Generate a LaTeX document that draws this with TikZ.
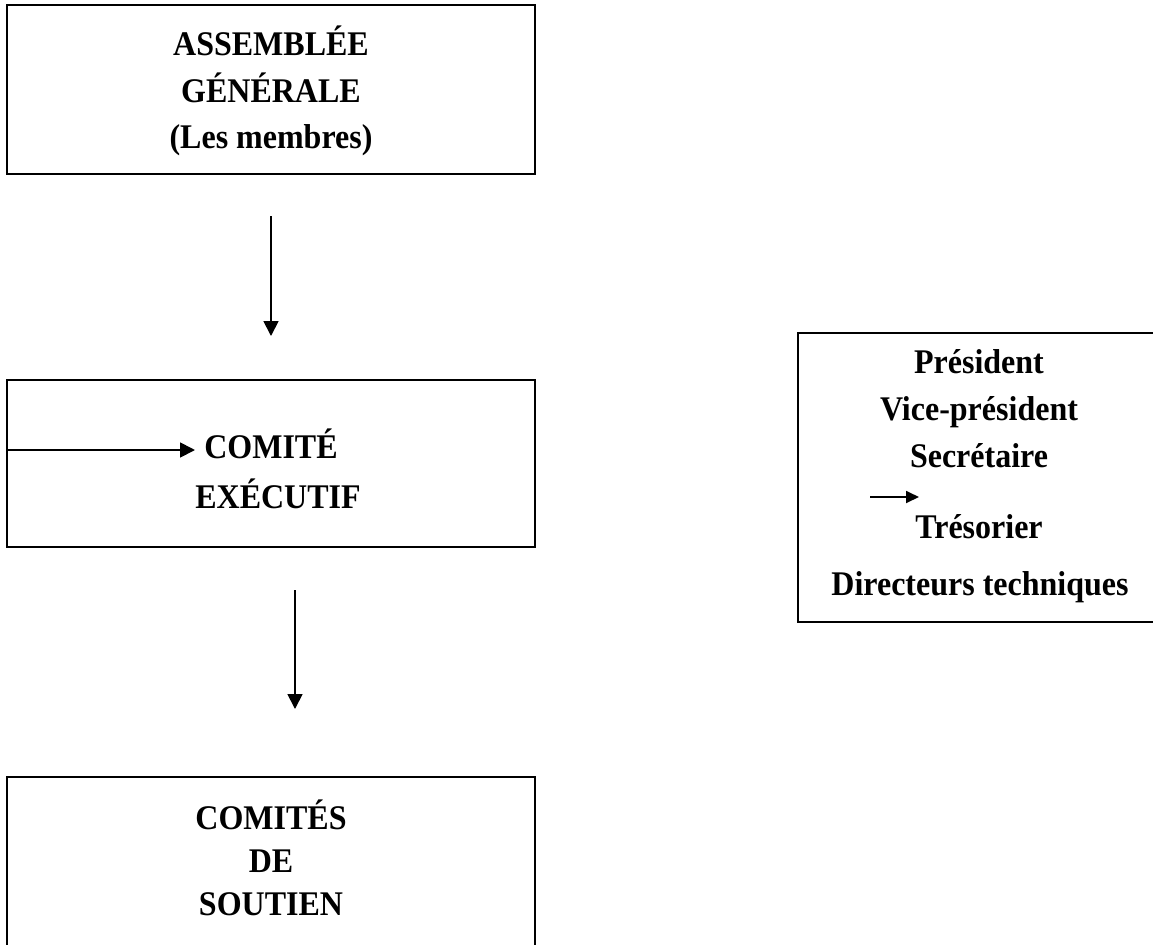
\documentclass[tikz,border=0pt]{standalone}
\usepackage{fontspec}
\setmainfont{Liberation Serif}
\usetikzlibrary{arrows.meta}

\tikzset{
  box/.style={draw, line width=1pt, inner sep=0pt},
  txt/.style={anchor=base, inner sep=0pt, yscale=1.08, font=\fontsize{16}{20}\selectfont\bfseries},
  flow/.style={-{Triangle[length=7.5pt, width=7.5pt]}, line width=0.9pt},
  small flow/.style={-{Triangle[length=6.5pt, width=6pt]}, line width=0.9pt}
}

\begin{document}
\begin{tikzpicture}[x=0.5pt, y=-0.5pt]
		\clip (0,0) rectangle (1153,944);
		% boxes
		\node[box, minimum width=264pt, minimum height=84.5pt] (ag) at (271,89.5) {};
		\node[box, minimum width=264pt, minimum height=83.5pt] (ce) at (271,463.5) {};
		\node[box, minimum width=264pt, minimum height=93pt] (cs) at (271,870) {};
		\node[box, minimum width=186pt, minimum height=144.5pt] (bureau) at (984,477.5) {};
		% texts
		\node[txt] (ag-1) at (271,55) {ASSEMBLÉE};
		\node[txt] (ag-2) at (271,102) {GÉNÉRALE};
		\node[txt] (ag-3) at (271,148) {(Les membres)};
		\node[txt] (ce-1) at (271,458) {COMITÉ};
		\node[txt] (ce-2) at (278,508) {EXÉCUTIF};
		\node[txt] (cs-1) at (271,829) {COMITÉS};
		\node[txt] (cs-2) at (271,872) {DE};
		\node[txt] (cs-3) at (271,915) {SOUTIEN};
		\node[txt] (b-1) at (979,373) {Président};
		\node[txt] (b-2) at (979,420) {Vice-président};
		\node[txt] (b-3) at (979,467) {Secrétaire};
		\node[txt] (b-4) at (979,538) {Trésorier};
		\node[txt] (b-5) at (980,595) {Directeurs techniques};
		% arrows
		\coordinate (a1-s) at (271,216);
		\coordinate (a1-e) at (271,336);
		\coordinate (a2-s) at (295,590);
		\coordinate (a2-e) at (295,709);
		\coordinate (a3-s) at (7,450);
		\coordinate (a3-e) at (195,450);
		\coordinate (a4-s) at (870,497);
		\coordinate (a4-e) at (919,497);
		\draw[flow] (a1-s) -- (a1-e);
		\draw[flow] (a2-s) -- (a2-e);
		\draw[flow] (a3-s) -- (a3-e);
		\draw[small flow] (a4-s) -- (a4-e);
\end{tikzpicture}
\end{document}
